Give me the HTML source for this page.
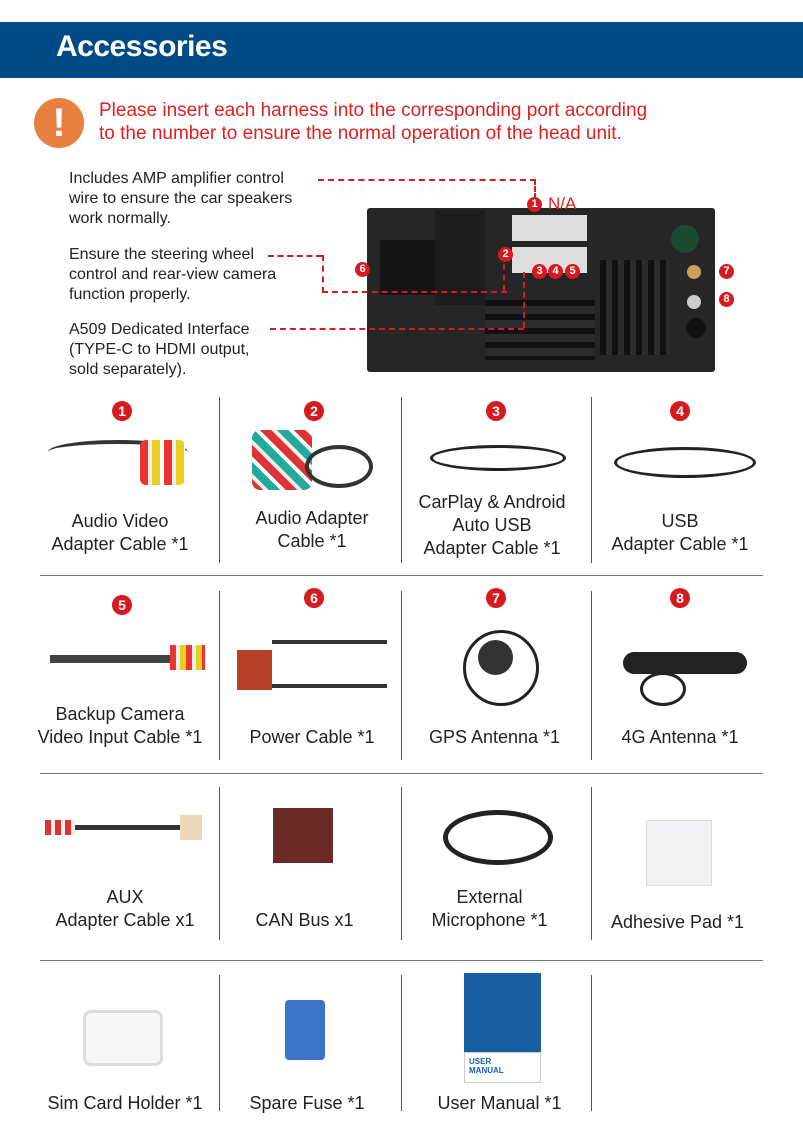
<!DOCTYPE html>
<html><head><meta charset="utf-8"><style>
body{margin:0;width:803px;height:1139px;background:#fff;position:relative;overflow:hidden;font-family:"Liberation Sans",sans-serif;}
.a{position:absolute;}
.t{position:absolute;text-align:center;font-size:18px;color:#222;line-height:23px;}
.n{position:absolute;width:20px;height:20px;border-radius:50%;background:#d71920;color:#fff;font-weight:bold;font-size:14px;line-height:20px;text-align:center;}
.vl{position:absolute;width:1px;background:#555;}
.hl{position:absolute;height:1px;background:#777;left:40px;width:723px;}
.d{position:absolute;border-color:#d71920;border-style:dashed;border-width:0;}
.s{position:absolute;font-size:16px;color:#222;line-height:20px;}
</style></head><body>
<div class="a" style="left:0;top:22px;width:803px;height:56px;background:#004a85;"></div>
<div class="a" style="left:56px;top:30px;color:#fff;font-size:30px;font-weight:bold;letter-spacing:-0.5px;">Accessories</div>
<div class="a" style="left:34px;top:98px;width:50px;height:50px;border-radius:50%;background:#e8803f;color:#fff;font-size:40px;font-weight:bold;text-align:center;line-height:50px;">!</div>
<div class="a" style="left:99px;top:99px;color:#e02020;font-size:19px;line-height:23px;">Please insert each harness into the corresponding port according<br>to the number to ensure the normal operation of the head unit.</div>
<div class="s" style="left:69px;top:169px;">Includes AMP amplifier control<br>wire to ensure the car speakers<br>work normally.</div>
<div class="s" style="left:69px;top:245px;">Ensure the steering wheel<br>control and rear-view camera<br>function properly.</div>
<div class="s" style="left:69px;top:320px;">A509 Dedicated Interface<br>(TYPE-C to HDMI output,<br>sold separately).</div>
<!-- head unit -->
<div class="a" style="left:367px;top:208px;width:348px;height:164px;background:#262626;border-radius:3px;"></div>
<div class="a" style="left:380px;top:240px;width:55px;height:55px;background:#151515;"></div>
<div class="a" style="left:435px;top:210px;width:50px;height:95px;background:#1c1c1c;"></div>
<div class="a" style="left:512px;top:215px;width:75px;height:26px;background:#ddd;"></div>
<div class="a" style="left:512px;top:247px;width:75px;height:26px;background:#ddd;"></div>
<div class="a" style="left:485px;top:300px;width:110px;height:60px;background:repeating-linear-gradient(#111 0 6px,#2b2b2b 6px 14px);"></div>
<div class="a" style="left:600px;top:260px;width:70px;height:95px;background:repeating-linear-gradient(90deg,#111 0 6px,#2b2b2b 6px 12px);"></div>
<div class="a" style="left:671px;top:225px;width:28px;height:28px;border-radius:50%;background:#1b4a33;"></div>
<div class="a" style="left:687px;top:265px;width:14px;height:14px;border-radius:50%;background:#c9a257;"></div>
<div class="a" style="left:687px;top:295px;width:14px;height:14px;border-radius:50%;background:#ccc;"></div>
<div class="a" style="left:686px;top:318px;width:20px;height:20px;border-radius:50%;background:#111;"></div>
<div class="n" style="left:527px;top:197px;width:15px;height:15px;font-size:11px;line-height:15px;">1</div>
<div class="a" style="left:548px;top:194px;color:#e02020;font-size:17px;">N/A</div>
<div class="n" style="left:498px;top:247px;width:15px;height:15px;font-size:11px;line-height:15px;">2</div>
<div class="n" style="left:532px;top:264px;width:15px;height:15px;font-size:11px;line-height:15px;">3</div>
<div class="n" style="left:548px;top:264px;width:15px;height:15px;font-size:11px;line-height:15px;">4</div>
<div class="n" style="left:565px;top:264px;width:15px;height:15px;font-size:11px;line-height:15px;">5</div>
<div class="n" style="left:355px;top:262px;width:15px;height:15px;font-size:11px;line-height:15px;">6</div>
<div class="n" style="left:719px;top:264px;width:15px;height:15px;font-size:11px;line-height:15px;">7</div>
<div class="n" style="left:719px;top:292px;width:15px;height:15px;font-size:11px;line-height:15px;">8</div>
<div class="d" style="left:318px;top:179px;width:216px;height:18px;border-top-width:2px;border-right-width:2px;"></div>
<div class="d" style="left:268px;top:255px;width:54px;border-top-width:2px;"></div>
<div class="d" style="left:322px;top:255px;width:183px;height:36px;border-left-width:2px;border-bottom-width:2px;"></div>
<div class="d" style="left:503px;top:264px;height:27px;border-left-width:2px;"></div>
<div class="d" style="left:270px;top:328px;width:254px;border-top-width:2px;"></div>
<div class="d" style="left:523px;top:272px;height:56px;border-left-width:2px;"></div>
<!-- grid -->
<div class="hl" style="top:575px"></div><div class="hl" style="top:773px"></div><div class="hl" style="top:960px"></div>
<div class="vl" style="left:219px;top:397px;height:166px"></div><div class="vl" style="left:401px;top:397px;height:166px"></div><div class="vl" style="left:591px;top:397px;height:166px"></div>
<div class="vl" style="left:219px;top:591px;height:169px"></div><div class="vl" style="left:401px;top:591px;height:169px"></div><div class="vl" style="left:591px;top:591px;height:169px"></div>
<div class="vl" style="left:219px;top:787px;height:153px"></div><div class="vl" style="left:401px;top:787px;height:153px"></div><div class="vl" style="left:591px;top:787px;height:153px"></div>
<div class="vl" style="left:219px;top:975px;height:136px"></div><div class="vl" style="left:401px;top:975px;height:136px"></div><div class="vl" style="left:591px;top:975px;height:136px"></div>
<!-- numbers -->
<div class="n" style="left:112px;top:401px">1</div><div class="n" style="left:304px;top:401px">2</div><div class="n" style="left:486px;top:401px">3</div><div class="n" style="left:670px;top:401px">4</div>
<div class="n" style="left:112px;top:595px">5</div><div class="n" style="left:304px;top:588px">6</div><div class="n" style="left:486px;top:588px">7</div><div class="n" style="left:670px;top:588px">8</div>
<!-- product pictures -->
<div class="a" style="left:48px;top:440px;width:140px;height:20px;border-top:4px solid #333;border-radius:50%;"></div>
<div class="a" style="left:140px;top:440px;width:45px;height:45px;background:repeating-linear-gradient(90deg,#e33 0 8px,#eee 8px 12px,#e8d020 12px 20px,#fff 20px 24px);border-radius:6px;"></div>
<div class="a" style="left:252px;top:430px;width:60px;height:60px;background:repeating-linear-gradient(45deg,#d33 0 8px,#eee 8px 12px,#2a9 12px 20px,#fff 20px 24px);border-radius:8px;"></div>
<div class="a" style="left:305px;top:445px;width:60px;height:35px;border:4px solid #333;border-radius:50%;"></div>
<div class="a" style="left:430px;top:445px;width:130px;height:20px;border:3px solid #222;border-radius:50%;"></div>
<div class="a" style="left:614px;top:447px;width:136px;height:25px;border:3px solid #222;border-radius:50%;"></div>
<div class="a" style="left:50px;top:655px;width:150px;height:8px;background:#444;"></div>
<div class="a" style="left:170px;top:645px;width:35px;height:25px;background:repeating-linear-gradient(90deg,#e33 0 6px,#eee 6px 10px,#e8d020 10px 16px);"></div>
<div class="a" style="left:237px;top:650px;width:35px;height:40px;background:#b8402a;"></div>
<div class="a" style="left:272px;top:640px;width:115px;height:40px;border-top:4px solid #333;border-bottom:4px solid #333;"></div>
<div class="a" style="left:463px;top:630px;width:70px;height:70px;border:3px solid #222;border-radius:50%;"></div>
<div class="a" style="left:478px;top:640px;width:35px;height:35px;background:#333;border-radius:50%;"></div>
<div class="a" style="left:623px;top:652px;width:124px;height:22px;background:#222;border-radius:11px;"></div>
<div class="a" style="left:640px;top:672px;width:40px;height:28px;border:3px solid #222;border-radius:50%;"></div>
<div class="a" style="left:50px;top:825px;width:150px;height:5px;background:#333;"></div>
<div class="a" style="left:180px;top:815px;width:22px;height:25px;background:#ecd7b8;"></div>
<div class="a" style="left:45px;top:820px;width:30px;height:15px;background:repeating-linear-gradient(90deg,#d33 0 6px,#eee 6px 10px);"></div>
<div class="a" style="left:273px;top:808px;width:60px;height:55px;background:#6b2a25;"></div>
<div class="a" style="left:443px;top:810px;width:100px;height:45px;border:5px solid #222;border-radius:50%;"></div>
<div class="a" style="left:646px;top:820px;width:64px;height:64px;background:#f2f2f4;border:1px solid #ddd;"></div>
<div class="a" style="left:83px;top:1010px;width:74px;height:50px;border:3px solid #ddd;border-radius:8px;background:#f7f7f7;"></div>
<div class="a" style="left:285px;top:1000px;width:40px;height:60px;background:#3b74c8;border-radius:4px;"></div>
<div class="a" style="left:464px;top:973px;width:77px;height:110px;background:#1a5fa3;"></div>
<div class="a" style="left:464px;top:1052px;width:77px;height:31px;background:#fff;border:1px solid #ccc;box-sizing:border-box;font-size:8px;font-weight:bold;color:#1a5fa3;padding:4px;line-height:9px;">USER<br>MANUAL</div>
<!-- labels -->
<div class="t" style="left:30px;top:510px;width:180px;">Audio Video<br>Adapter Cable *1</div>
<div class="t" style="left:222px;top:507px;width:180px;">Audio Adapter<br>Cable *1</div>
<div class="t" style="left:402px;top:491px;width:180px;">CarPlay &amp; Android<br>Auto USB<br>Adapter Cable *1</div>
<div class="t" style="left:590px;top:510px;width:180px;">USB<br>Adapter Cable *1</div>
<div class="t" style="left:25px;top:703px;width:190px;">Backup Camera<br>Video Input Cable *1</div>
<div class="t" style="left:222px;top:726px;width:180px;">Power Cable *1</div>
<div class="t" style="left:402px;top:726px;width:185px;">GPS Antenna *1</div>
<div class="t" style="left:590px;top:726px;width:180px;">4G Antenna *1</div>
<div class="t" style="left:35px;top:886px;width:180px;">AUX<br>Adapter Cable x1</div>
<div class="t" style="left:222px;top:909px;width:165px;">CAN Bus x1</div>
<div class="t" style="left:402px;top:886px;width:175px;">External<br>Microphone *1</div>
<div class="t" style="left:590px;top:911px;width:175px;">Adhesive Pad *1</div>
<div class="t" style="left:35px;top:1092px;width:180px;">Sim Card Holder *1</div>
<div class="t" style="left:222px;top:1092px;width:170px;">Spare Fuse *1</div>
<div class="t" style="left:412px;top:1092px;width:175px;">User Manual *1</div>
</body></html>
